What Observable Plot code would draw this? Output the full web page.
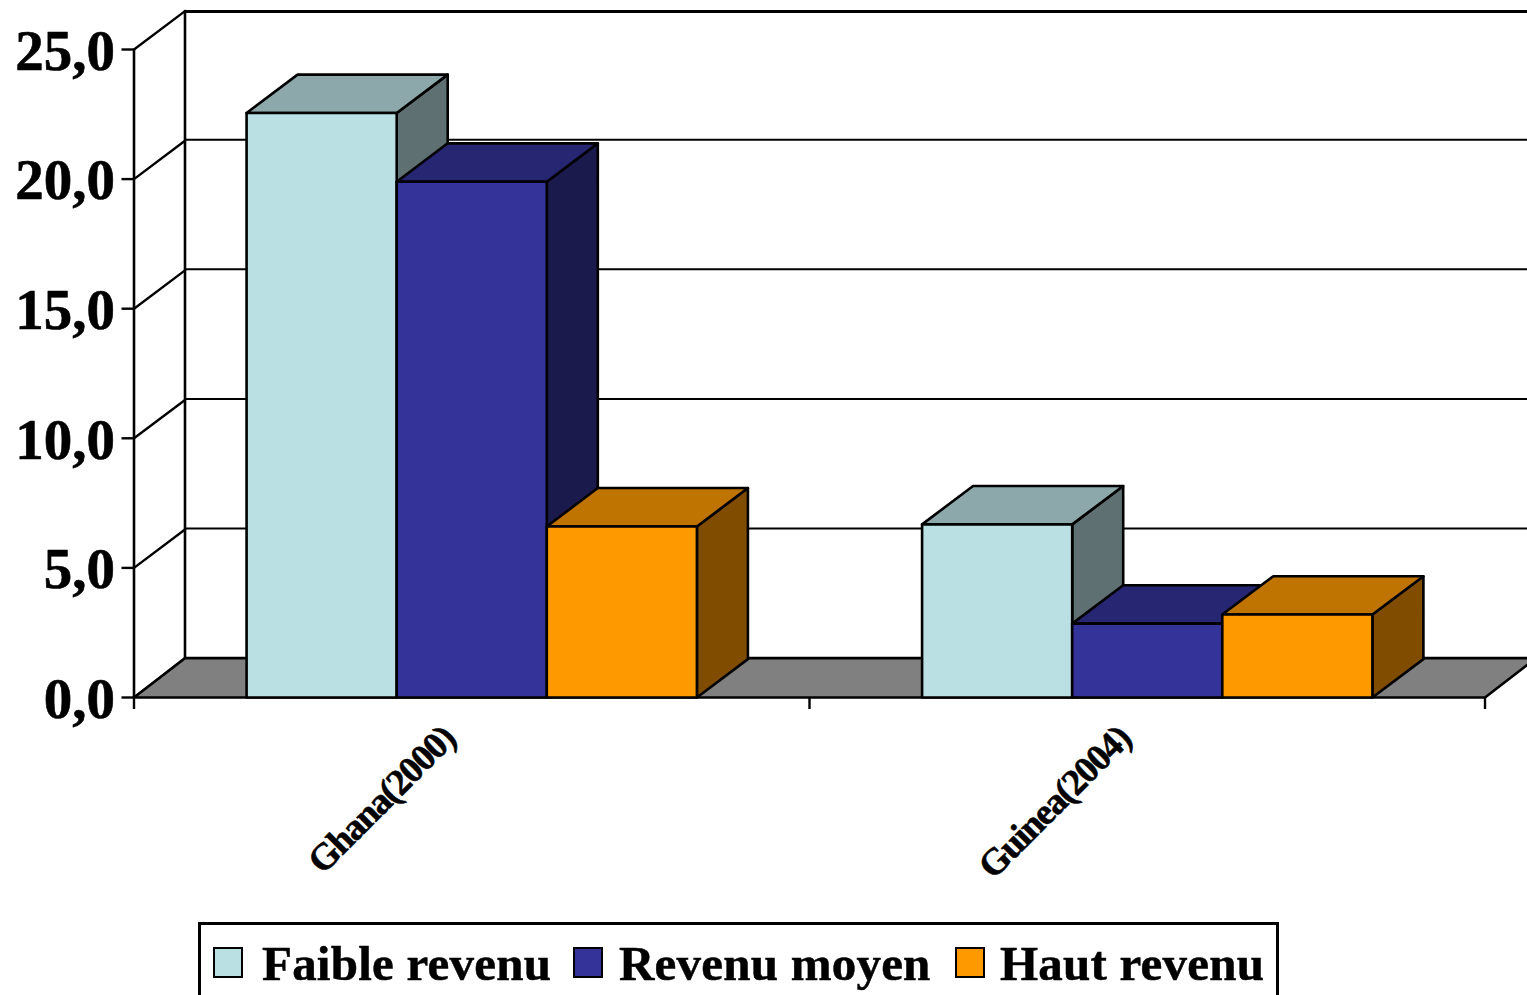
<!DOCTYPE html>
<html>
<head>
<meta charset="utf-8">
<script src="https://cdn.jsdelivr.net/npm/d3@7"></script>
<script src="https://cdn.jsdelivr.net/npm/@observablehq/plot@0.6"></script>
<style>
html,body{margin:0;padding:0;background:#fff;overflow:hidden;width:1527px;height:995px}
svg{display:block}
#legend{position:relative;margin-top:-1px;margin-left:198px;width:1075px;height:90px;border:3px solid #000;box-sizing:content-box;font:bold 49px "Liberation Serif",serif;color:#000;-webkit-text-stroke:0.5px #000}
#legend .sw{position:absolute;top:22px;width:26px;height:27px;border:2.5px solid #000}
#legend .lb{position:absolute;top:9px;line-height:60px;white-space:nowrap;letter-spacing:0.22px}
</style>
</head>
<body>
<div id="chart"></div>
<div id="legend"></div>
<script>
const categories = ["Ghana(2000)", "Guinea(2004)"];
const series = ["Faible revenu", "Revenu moyen", "Haut revenu"];
const ghana = [22.55, 19.9, 6.6];
const guinea = [6.68, 2.85, 3.2];
const frontColors = ["#BBE0E3", "#333399", "#FF9900"];
const topColors = ["#8CA8AA", "#262673", "#BF7300"];
const sideColors = ["#5E7072", "#1A1A4D", "#804D00"];
const yTicks = [0, 5, 10, 15, 20, 25];
const floorColor = "#808080";
const depthX = 0.0755;   // in category units
const depthY = 1.48;     // in value units
const barWidth = 2 / 9;
const gap = 1 / 6;

const serif = "Liberation Serif";
const poly = (pts, fill) => Plot.line([...pts, pts[0]], {x: d => d[0], y: d => d[1], fill, stroke: "#000", strokeWidth: 2.6, strokeLinejoin: "round"});
const seg = (pts, w = 2) => Plot.line(pts, {x: d => d[0], y: d => d[1], stroke: "#000", strokeWidth: w});

const bars = [];
[ghana, guinea].forEach((vals, c) => vals.forEach((v, s) => {
  const x0 = c + gap + s * barWidth, x1 = x0 + barWidth;
  const dx = depthX, dy = depthY;
  bars.push(
    poly([[x1, 0], [x1 + dx, dy], [x1 + dx, v + dy], [x1, v]], sideColors[s]),
    poly([[x0, v], [x1, v], [x1 + dx, v + dy], [x0 + dx, v + dy]], topColors[s]),
    poly([[x0, 0], [x1, 0], [x1, v], [x0, v]], frontColors[s])
  );
}));

const chart = Plot.plot({
  width: 1527, height: 923,
  marginLeft: 133.5, marginRight: 42.5, marginTop: 49, marginBottom: 226,
  x: {domain: [0, 2], axis: null},
  y: {domain: [0, 25], axis: null},
  marks: [
    // walls
    seg([[0, 0], [0, 25]], 2.6),
    seg([[depthX, depthY], [depthX, 25 + depthY]], 2.6),
    ...yTicks.map(t => seg([[0, t], [depthX, t + depthY]], 2.4)),
    ...yTicks.map(t => seg([[depthX, t === 25 ? t + 1.47 : t + 1.52], [2 + depthX, t === 25 ? t + 1.47 : t + 1.52]], t === 25 ? 3 : 2)),
    // floor
    poly([[0, 0], [2, 0], [2 + depthX, 1.52], [depthX, 1.52]], floorColor),
    ...bars,
    Plot.axisY({ticks: yTicks, tickSize: 12, strokeWidth: 2.4, color: "#000", tickFormat: () => "", label: null}),
    Plot.axisX({ticks: [0, 1, 2], tickSize: 12, strokeWidth: 2.4, color: "#000", tickFormat: () => "", label: null}),
    Plot.text(yTicks, {x: () => 0, y: d => d, text: d => d.toFixed(1).replace(".", ","), textAnchor: "end", dx: -19, dy: 2, fontSize: 57, fontWeight: "bold", fontFamily: serif, fill: "#000", stroke: "#000", strokeWidth: 0.6}),
    Plot.text(categories, {x: (d, i) => i + 0.5, y: () => 0, text: d => d, rotate: -45, textAnchor: "end", dx: -23, dy: 35, fontSize: 37, fontWeight: "bold", fontFamily: serif, fill: "#000", stroke: "#000", strokeWidth: 0.6, style: {letterSpacing: "-1.4px"}})
  ]
});
chart.querySelectorAll("text").forEach(t => { if (/\(/.test(t.textContent)) t.style.letterSpacing = "-1.4px"; });
document.getElementById("chart").append(chart);

const legend = document.getElementById("legend");
const swatchLeft = [12, 372, 754];
const labelLeft = [61, 418, 799];
series.forEach((name, i) => {
  const sw = document.createElement("span");
  sw.className = "sw"; sw.style.left = swatchLeft[i] + "px"; sw.style.background = frontColors[i];
  const lb = document.createElement("span");
  lb.className = "lb"; lb.style.left = labelLeft[i] + "px"; lb.textContent = name;
  legend.append(sw, lb);
});
</script>
</body>
</html>
